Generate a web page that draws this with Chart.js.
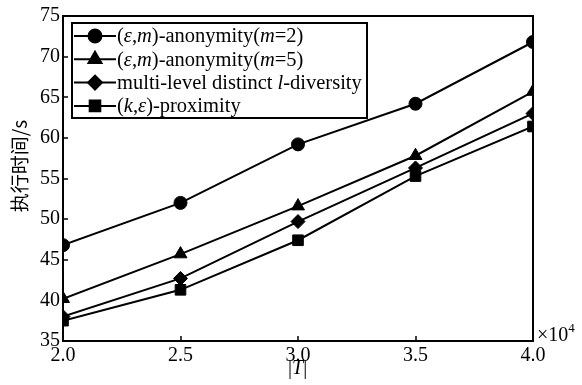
<!DOCTYPE html>
<html>
<head>
<meta charset="utf-8">
<script src="https://cdn.jsdelivr.net/npm/chart.js@4.4.1/dist/chart.umd.min.js"></script>
<style>
    html, body { margin: 0; padding: 0; background: #fff; }
</style>
</head>
<body>
<canvas id="myChart" width="582" height="385"></canvas>
<script>
// |T| in units of 10^4
const sizes = [2.0, 2.5, 3.0, 3.5, 4.0];
const m2Times = [46.8, 52.0, 59.2, 64.2, 71.8];
const m5Times = [40.2, 45.7, 51.6, 57.8, 65.7];
const lDivTimes = [38.0, 42.7, 49.7, 56.3, 63.0];
const proxTimes = [37.5, 41.3, 47.4, 55.3, 61.4];
const xTicks = [2.0, 2.5, 3.0, 3.5, 4.0];
const yTicks = [35, 40, 45, 50, 55, 60, 65, 70, 75];

// legend labels, split into [text, italic] pieces
const legendLabels = [
    [['(', false], ['\u03b5', true], [',', false], ['m', true], [')-anonymity(', false], ['m', true], ['=2)', false]],
    [['(', false], ['\u03b5', true], [',', false], ['m', true], [')-anonymity(', false], ['m', true], ['=5)', false]],
    [['multi-level distinct ', false], ['l', true], ['-diversity', false]],
    [['(', false], ['k', true], [',', false], ['\u03b5', true], [')-proximity', false]]
];

const serif = '"Liberation Serif", "Times New Roman", serif';

function pts(ys) {
    return sizes.map((x, i) => ({ x: x, y: ys[i] }));
}

function drawPieces(ctx, pieces, x, y, size) {
    pieces.forEach(p => {
        ctx.font = (p[1] ? 'italic ' : '') + size + 'px ' + serif;
        ctx.fillText(p[0], x, y);
        x += ctx.measureText(p[0]).width;
    });
    return x;
}

const framePlugin = {
    id: 'frame',
    afterDraw(chart) {
        const ctx = chart.ctx;
        const a = chart.chartArea;
        const xs = chart.scales.x;
        const ys = chart.scales.y;
        ctx.save();
        ctx.strokeStyle = '#000';
        ctx.lineWidth = 2;
        ctx.strokeRect(a.left, a.top, a.right - a.left, a.bottom - a.top);

        // inward ticks
        ctx.lineWidth = 1.5;
        ctx.beginPath();
        xTicks.forEach(v => {
            const px = Math.round(xs.getPixelForValue(v));
            ctx.moveTo(px, a.bottom);
            ctx.lineTo(px, a.bottom - 5);
        });
        yTicks.forEach(v => {
            const py = Math.round(ys.getPixelForValue(v));
            ctx.moveTo(a.left, py);
            ctx.lineTo(a.left + 5, py);
        });
        ctx.stroke();

        // legend
        const lx = 72, ly = 23, lw = 295, lh = 95;
        ctx.fillStyle = '#fff';
        ctx.fillRect(lx, ly, lw, lh);
        ctx.lineWidth = 2;
        ctx.strokeRect(lx, ly, lw, lh);
        ctx.textBaseline = 'middle';
        ctx.textAlign = 'left';
        chart.data.datasets.forEach((ds, i) => {
            const rowY = 36 + i * 23.3;
            ctx.strokeStyle = '#000';
            ctx.lineWidth = 2;
            ctx.beginPath();
            ctx.moveTo(74, rowY);
            ctx.lineTo(116, rowY);
            ctx.stroke();
            ctx.fillStyle = '#000';
            Chart.helpers.drawPoint(ctx, {
                pointStyle: ds.pointStyle,
                radius: ds.pointRadius,
                rotation: 0,
                borderWidth: 1
            }, 95, rowY);
            ctx.fillStyle = '#000';
            drawPieces(ctx, legendLabels[i], 117, rowY + 1, 20.5);
        });

        // axis titles
        ctx.fillStyle = '#000';
        ctx.textBaseline = 'middle';
        drawPieces(ctx, [['|', false], ['T', true], ['|', false]], 288, 369, 20);

        // x10^4
        ctx.font = '20px ' + serif;
        ctx.fillText('\u00d710', 537, 336);
        const w = ctx.measureText('\u00d710').width;
        ctx.font = '13px ' + serif;
        ctx.fillText('4', 537 + w, 329);

        // y title
        ctx.translate(20, 166);
        ctx.rotate(-Math.PI / 2);
        ctx.textAlign = 'center';
        ctx.font = '19px "Noto Sans CJK SC", sans-serif';
        ctx.fillText('执行时间/s', 0, 0);
        ctx.restore();
    }
};

function makeSet(label, ys, style, radius) {
    return {
        label: label,
        data: pts(ys),
        borderColor: '#000',
        backgroundColor: '#000',
        borderWidth: 2,
        pointStyle: style,
        pointRadius: radius,
        pointBorderWidth: 1,
        pointBackgroundColor: '#000',
        pointBorderColor: '#000',
        tension: 0
    };
}

const ctx = document.getElementById('myChart').getContext('2d');
const myChart = new Chart(ctx, {
    type: 'line',
    data: {
        datasets: [
            makeSet('m2', m2Times, 'circle', 6.5),
            makeSet('m5', m5Times, 'triangle', 7.5),
            makeSet('ldiv', lDivTimes, 'rectRot', 7),
            makeSet('prox', proxTimes, 'rect', 7.5)
        ]
    },
    options: {
        responsive: false,
        animation: false,
        layout: {
            padding: { left: 0, right: 49, top: 16, bottom: 0 }
        },
        plugins: {
            legend: { display: false },
            tooltip: { enabled: false }
        },
        scales: {
            x: {
                type: 'linear',
                min: 2,
                max: 4,
                afterFit(scale) { scale.height = 44; },
                afterBuildTicks(scale) { scale.ticks = xTicks.map(v => ({ value: v })); },
                grid: { display: false, drawTicks: false },
                border: { display: false },
                ticks: {
                    padding: 3,
                    color: '#000',
                    maxRotation: 0,
                    font: { family: serif, size: 20 },
                    callback: v => v.toFixed(1)
                }
            },
            y: {
                min: 35,
                max: 75,
                afterFit(scale) { scale.width = 63; },
                afterBuildTicks(scale) { scale.ticks = yTicks.map(v => ({ value: v })); },
                grid: { display: false, drawTicks: false },
                border: { display: false },
                ticks: {
                    padding: 3,
                    color: '#000',
                    font: { family: serif, size: 20 }
                }
            }
        }
    },
    plugins: [framePlugin]
});
</script>
</body>
</html>
